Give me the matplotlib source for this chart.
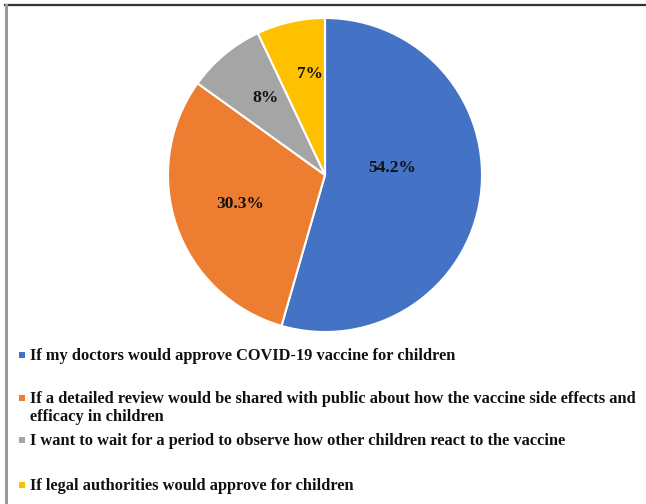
import matplotlib
matplotlib.use("Agg")
import matplotlib.pyplot as plt
from matplotlib.patches import Rectangle
from matplotlib.lines import Line2D
import numpy as np

labels = [
    "If my doctors would approve COVID-19 vaccine for children",
    "If a detailed review would be shared with public about how the vaccine side effects and\nefficacy in children",
    "I want to wait for a period to observe how other children react to the vaccine",
    "If legal authorities would approve for children",
]
values = [54.2, 30.3, 8, 7]
pct_text = ["54.2%", "30.3%", "8%", "7%"]
colors = ["#4472C4", "#ED7D31", "#A5A5A5", "#FFC000"]

W, H = 646, 504
fig = plt.figure(figsize=(W / 100, H / 100), dpi=100)
fig.patch.set_facecolor("white")

# frame lines (top and left)
fig.add_artist(Line2D([5 / W, 1], [1 - 4.5 / H, 1 - 4.5 / H], color="#333333", lw=1.6, transform=fig.transFigure))
fig.add_artist(Line2D([6 / W, 6 / W], [0, 1 - 4.5 / H], color="#999999", lw=2.2, transform=fig.transFigure))

r_px = 157
cx, cy = 325, 175
ax = fig.add_axes([(cx - r_px) / W, 1 - (cy + r_px) / H, 2 * r_px / W, 2 * r_px / H])
wedges, _ = ax.pie(values, colors=colors, startangle=90, counterclock=False,
                   wedgeprops=dict(edgecolor="white", linewidth=1.5))
ax.set_xlim(-1, 1)
ax.set_ylim(-1, 1)
ax.set_aspect("equal")
ax.axis("off")

label_r = [0.43, 0.57, 0.62, 0.65]
angle_shift = [14, 0, -2, -4]
for w, t, r, s in zip(wedges, pct_text, label_r, angle_shift):
    ang = np.deg2rad((w.theta1 + w.theta2) / 2 + s)
    ax.text(r * np.cos(ang), r * np.sin(ang), t, ha="center", va="center",
            fontsize=12.5, fontweight="bold", family="Liberation Serif", color="#111111")

# legend
ys = [355, 398, 440, 485]
line_gap = 18
for y, lab, c in zip(ys, labels, colors):
    fig.add_artist(Rectangle((19 / W, 1 - (y + 3) / H), 6 / W, 6 / H, facecolor=c,
                             edgecolor="none", transform=fig.transFigure))
    for i, part in enumerate(lab.split("\n")):
        fig.text(30 / W, 1 - (y + 5 + i * line_gap) / H, part, ha="left", va="baseline",
                 fontsize=11.8, fontweight="bold", family="Liberation Serif", color="#111111")

fig.savefig("out.png", dpi=100, facecolor="white")
